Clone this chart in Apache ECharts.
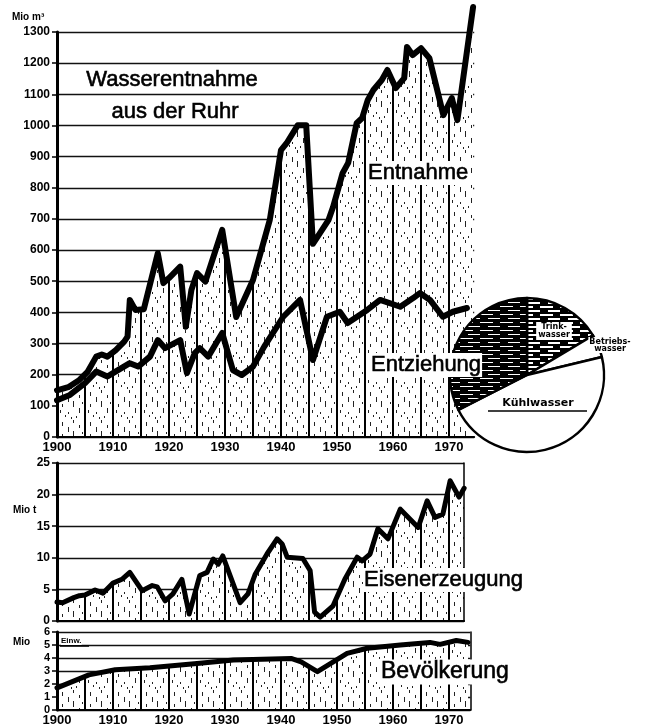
<!DOCTYPE html>
<html>
<head>
<meta charset="utf-8">
<title>Wasserentnahme aus der Ruhr</title>
<script src="https://cdn.jsdelivr.net/npm/echarts@6/dist/echarts.min.js"></script>
<style>
  html, body { margin: 0; padding: 0; background: #fff; }
  #chart { width: 645px; height: 727px; }
</style>
</head>
<body>
<div id="chart"></div>
<script>
// Wasserentnahme aus der Ruhr, Mio m³  [Jahr, Wert]
var entnahme = [[1900,150],[1902,160],[1904,183],[1905.5,210],[1907,258],[1908,265],[1909,258],
  [1910.5,279],[1912,306],[1912.6,322],[1913,440],[1914,408],[1915.5,410],[1916.5,482],[1918,590],
  [1919,494],[1920,510],[1922,547],[1923,354],[1924,472],[1925,526],[1926.5,499],[1929.5,665],
  [1932,385],[1935,504],[1938,697],[1940,921],[1941,943],[1943,1001],[1944.5,1001],[1945.7,620],
  [1948.5,697],[1949.3,738],[1951,847],[1952,880],[1953.5,1007],[1954.5,1024],[1955.5,1082],
  [1956.5,1114],[1958,1146],[1959,1178],[1960.5,1120],[1962,1152],[1962.5,1252],[1963.5,1226],
  [1965,1248],[1966.5,1216],[1969,1033],[1970.5,1088],[1971.5,1017],[1974.3,1380]];
var entziehung = [[1900,118],[1902.3,135],[1905,173],[1907,210],[1909,194],[1910,205],[1913,237],
  [1914.5,226],[1916.6,258],[1918,311],[1919.3,285],[1922,311],[1923.2,205],[1924.6,269],[1925.5,285],
  [1927,258],[1929.5,334],[1931.4,215],[1933,199],[1935,226],[1937,290],[1940.4,386],[1943.4,440],
  [1945.7,247],[1948.2,386],[1950.5,402],[1951.9,366],[1955.4,408],[1957.7,440],[1961.3,418],
  [1963.6,446],[1964.8,462],[1966.6,440],[1968.9,386],[1970.7,402],[1973.2,414]];
// Eisenerzeugung, Mio t
var eisen = [[1900,3.0],[1901,2.9],[1903,3.7],[1904,4.0],[1905,4.1],[1906.8,4.9],[1908.2,4.4],
  [1910,6.0],[1911.6,6.6],[1913,7.7],[1915.2,4.8],[1917,5.6],[1917.9,5.4],[1919.3,3.2],[1920.7,4.3],
  [1922.3,6.6],[1923.6,1.1],[1925.5,7.2],[1926.8,7.7],[1927.9,9.8],[1928.8,9.0],[1929.6,10.3],
  [1932.7,2.9],[1934.1,4.3],[1935.4,7.4],[1937.5,10.6],[1939.3,13.0],[1940.2,12.2],[1941.1,10.1],
  [1943.9,9.9],[1945.2,8.0],[1946,1.4],[1947,0.6],[1949.3,2.4],[1951.4,6.6],[1953.6,10.1],
  [1954.5,9.5],[1955.9,10.6],[1957.3,14.6],[1959.1,13.0],[1961.3,17.7],[1964.5,14.8],[1966.1,19.0],
  [1967.5,16.4],[1968.9,16.9],[1970.2,22.2],[1971.8,19.6],[1972.7,21.0]];
// Bevölkerung, Mio Einw.
var bevoelkerung = [[1900,1.7],[1905.7,2.7],[1910.4,3.1],[1916.6,3.25],[1925.5,3.6],[1931.5,3.85],
  [1941.8,3.97],[1943.6,3.7],[1946.5,2.95],[1951.8,4.35],[1955.4,4.75],[1961.3,5.0],[1966.6,5.2],
  [1968.4,5.05],[1971.3,5.35],[1973.4,5.2]];
// Kreis: Anteile in Grad, im Uhrzeigersinn ab 12 Uhr
var kreisNamen = ['Trinkwasser', 'Betriebswasser', 'Kühlwasser', 'Entziehung'];
var kreisWerte = [59, 17.5, 166.5, 117];

var FONT = '"Liberation Sans", Arial, sans-serif';
var PX_JAHR = 5.6;

// Senkrechte Schraffur unter den Kurven (alle 5 Jahre eine volle Linie)
function senkrecht() {
  var c = document.createElement('canvas');
  c.width = 28; c.height = 30;
  var g = c.getContext('2d');
  g.fillStyle = '#fff'; g.fillRect(0, 0, 28, 30);
  g.fillStyle = '#000'; g.fillRect(0, 0, 2, 30);
  g.fillStyle = '#222';
  [[6,2,4],[6,14,3],[12,7,5],[12,22,2],[17,0,3],[17,11,6],[23,5,3],[23,18,5],[9,25,2],[20,26,2],
   [4,20,3],[26,12,2],[15,27,2]]
    .forEach(function (d) { g.fillRect(d[0], d[1], 1, d[2]); });
  return c;
}
// waagerechte Schraffur für den Kreis
function quer(hell) {
  var c = document.createElement('canvas');
  c.width = 20; c.height = 8;
  var g = c.getContext('2d');
  g.fillStyle = '#000'; g.fillRect(0, 0, 20, 8);
  g.fillStyle = '#fff';
  g.fillRect(0, 2, 13, hell ? 2 : 1);
  g.fillRect(8, 6, 12, hell ? 2 : 1);
  return c;
}
var fuellung = { image: senkrecht(), repeat: 'repeat' };

var myChart = echarts.init(document.getElementById('chart'));

function xAchse(grid, max, labels) {
  return {
    type: 'value', gridIndex: grid, min: 1900, max: max, interval: 10, z: 3,
    axisLine: { show: true, onZero: false, lineStyle: { color: '#000', width: 2 } },
    axisTick: { show: false },
    splitLine: { show: false },
    axisLabel: {
      show: labels, showMaxLabel: false, margin: 4, color: '#000',
      fontFamily: FONT, fontWeight: 'bold', fontSize: 13,
      formatter: function (v) { return String(v); }
    }
  };
}
function yAchse(grid, max, interval, fontSize) {
  return {
    type: 'value', gridIndex: grid, min: 0, max: max, interval: interval, z: 3,
    axisLine: { show: true, lineStyle: { color: '#000', width: 3 } },
    axisTick: { show: true, length: 5, lineStyle: { color: '#000', width: 1.5 } },
    splitLine: { show: false },
    axisLabel: {
      margin: 7, color: '#000', fontFamily: FONT, fontWeight: 'bold', fontSize: fontSize,
      formatter: function (v) { return String(v); }
    }
  };
}
function gitter(grid, max, interval) {
  return {
    type: 'value', gridIndex: grid, min: 0, max: max, interval: interval, z: 0,
    axisLine: { show: false }, axisTick: { show: false }, axisLabel: { show: false },
    splitLine: { show: true, lineStyle: { color: '#111', width: 1.3 } }
  };
}
function rand(grid, max) {
  return {
    type: 'value', gridIndex: grid, min: 0, max: max, position: 'right', z: 3,
    axisLine: { show: true, lineStyle: { color: '#000', width: 1.5 } },
    axisTick: { show: false }, axisLabel: { show: false }, splitLine: { show: false }
  };
}
function kurve(name, data, xi, yi, width, area) {
  var s = {
    name: name, type: 'line', xAxisIndex: xi, yAxisIndex: yi, data: data,
    symbol: 'none', clip: false, z: 2,
    lineStyle: { color: '#000', width: width, join: 'round', cap: 'round' }
  };
  if (area) s.areaStyle = { color: fuellung, opacity: 1 };
  return s;
}

function text(t, x, y, font, align, extra) {
  var st = { text: t, x: x, y: y, font: font, fill: '#000',
    textAlign: align || 'left', textVerticalAlign: 'middle' };
  for (var k in extra || {}) st[k] = extra[k];
  return { type: 'text', z: 100, style: st };
}
// große Beschriftungen etwas kräftiger wie im Druck
var kraeftig = { stroke: '#000', lineWidth: 0.6 };
var kraeftigBox = { stroke: '#000', lineWidth: 0.6, backgroundColor: '#fff', padding: [1, 1] };

var kreisFarben = [
  { color: { image: quer(true), repeat: 'repeat' } },
  { color: '#fff' },
  { color: '#fff' },
  { color: { image: quer(false), repeat: 'repeat' } }
];

const option = {
  animation: false,
  grid: [
    { left: 57, top: 32, width: PX_JAHR * 74.5, height: 405 },
    { left: 57, top: 463, width: PX_JAHR * 72.7, height: 158 },
    { left: 57, top: 632, width: PX_JAHR * 73.8, height: 78 }
  ],
  xAxis: [xAchse(0, 1974.5, true), xAchse(1, 1972.7, false), xAchse(2, 1973.8, true)],
  yAxis: [
    yAchse(0, 1300, 100, 12), gitter(0, 1300, 100),
    yAchse(1, 25, 5, 12), gitter(1, 25, 5), rand(1, 25),
    yAchse(2, 6, 1, 11), gitter(2, 6, 1), rand(2, 6)
  ],
  series: [
    kurve('Entnahme', entnahme, 0, 0, 6, true),
    kurve('Entziehung', entziehung, 0, 0, 6, false),
    kurve('Eisenerzeugung', eisen, 1, 2, 5, true),
    kurve('Bevölkerung', bevoelkerung, 2, 5, 5, true),
    {
      type: 'pie', center: [527, 375], radius: 77, startAngle: 90, clockwise: true, z: 5,
      label: { show: false }, labelLine: { show: false }, silent: true,
      itemStyle: { borderColor: '#000', borderWidth: 2.5 },
      data: kreisWerte.map(function (v, i) {
        return { name: kreisNamen[i], value: v, itemStyle: kreisFarben[i] };
      })
    }
  ],
  graphic: [
    text('Mio m³', 12, 17, 'bold 10px ' + FONT),
    text('Wasserentnahme', 172, 80, '22px ' + FONT, 'center', kraeftig),
    text('aus der Ruhr', 175, 112, '22px ' + FONT, 'center', kraeftig),
    text('Entnahme', 367, 173, '22px ' + FONT, 'left', kraeftigBox),
    text('Entziehung', 370, 365, '22px ' + FONT, 'left', kraeftigBox),
    text('Eisenerzeugung', 363, 580, '22px ' + FONT, 'left', kraeftigBox),
    text('Bevölkerung', 380, 672, '23px ' + FONT, 'left', kraeftigBox),
    text('Mio t', 13, 510, 'bold 10px ' + FONT),
    text('Mio', 13, 642, 'bold 10px ' + FONT),
    text('Einw.', 61, 641, 'bold 8px ' + FONT, 'left', { backgroundColor: '#fff' }),
    { type: 'line', z: 100, shape: { x1: 60, y1: 646, x2: 89, y2: 646 }, style: { stroke: '#000', lineWidth: 1.5 } },
    text('Trink-\nwasser', 554, 331, 'bold 8px "DejaVu Sans"', 'center', { backgroundColor: '#fff', padding: [1, 2], lineHeight: 8 }),
    text('Betriebs-\nwasser', 610, 345, 'bold 8px "DejaVu Sans"', 'center', { backgroundColor: '#fff', padding: [1, 1], lineHeight: 7 }),
    text('Kühlwasser', 538, 403, 'bold 11px "DejaVu Sans"', 'center'),
    { type: 'line', z: 100, shape: { x1: 488, y1: 411, x2: 587, y2: 411 }, style: { stroke: '#000', lineWidth: 1.5 } }
  ]
};
myChart.setOption(option);
</script>
</body>
</html>
